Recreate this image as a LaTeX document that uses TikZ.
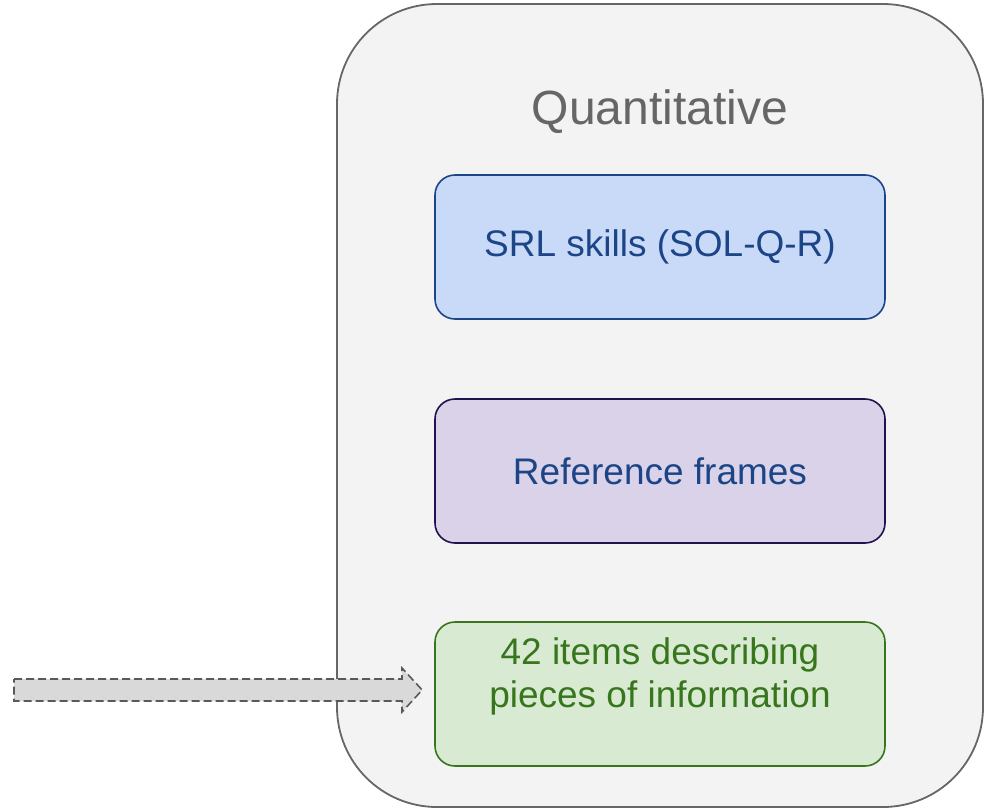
\documentclass[tikz,border=0pt]{standalone}
\usepackage{fontspec}
\setmainfont{Liberation Sans}
\definecolor{outerfill}{HTML}{F3F3F3}
\definecolor{outerdraw}{HTML}{666666}
\definecolor{bluefill}{HTML}{C9DAF8}
\definecolor{bluedraw}{HTML}{1C4587}
\definecolor{purplefill}{HTML}{D9D2E9}
\definecolor{purpledraw}{HTML}{20124D}
\definecolor{greenfill}{HTML}{D9EAD3}
\definecolor{greendraw}{HTML}{38761D}
\definecolor{arrowfill}{HTML}{D9D9D9}
\definecolor{arrowdraw}{HTML}{595959}
\begin{document}
\begin{tikzpicture}[x=1pt,y=-1pt,
  innerbox/.style={draw, line width=1.6pt, rounded corners=20pt, minimum width=450pt, minimum height=144pt, inner sep=0pt, align=center, font=\fontsize{37}{43}\selectfont},
]
\useasboundingbox (0,0) rectangle (984,811);
\draw[outerdraw, fill=outerfill, line width=1.8pt, rounded corners=100pt] (337,4) rectangle (983,807);
\node[text=outerdraw, font=\fontsize{48}{54}\selectfont] (title) at (660,112) {Quantitative};
\node[innerbox, fill=bluefill, draw=bluedraw, text=bluedraw] (srl) at (660,247) {SRL skills (SOL-Q-R)};
\node[innerbox, fill=purplefill, draw=purpledraw, text=bluedraw] (ref) at (660,471) {Reference frames};
\node[innerbox, fill=greenfill, draw=greendraw, text=greendraw] (items) at (660,694) {42 items describing\\pieces of information\\\mbox{}};
\coordinate (src) at (14,690);
\draw[arrowdraw, fill=arrowfill, dash pattern=on 8pt off 4pt, line width=1.6pt]
  ([yshift=11pt]src) -- (402,679) -- (402,668) -- ([xshift=-12pt,yshift=4pt]items.west) -- (402,712) -- (402,701) -- ([yshift=-11pt]src) -- cycle;
\end{tikzpicture}
\end{document}
